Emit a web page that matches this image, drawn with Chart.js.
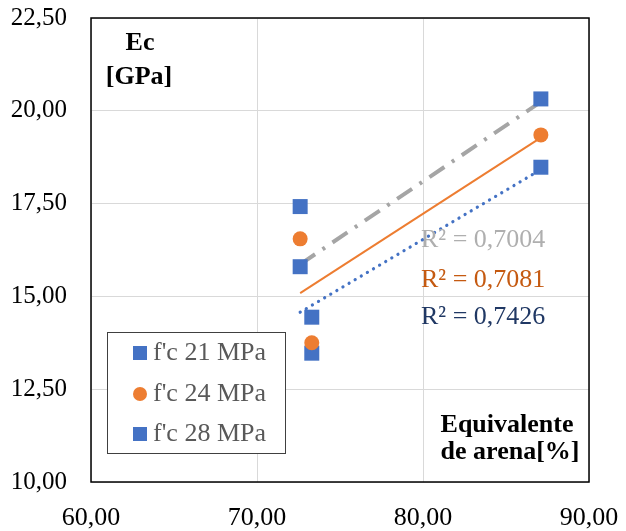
<!DOCTYPE html>
<html>
<head>
<meta charset="utf-8">
<script src="https://cdn.jsdelivr.net/npm/chart.js@4.4.1/dist/chart.umd.min.js"></script>
<style>
  html, body { margin: 0; padding: 0; background: #fff; }
  #wrap { width: 626px; height: 531px; }
</style>
</head>
<body>
<div id="wrap"><canvas id="chart" width="626" height="531"></canvas></div>
<script>
const FONT = '"Liberation Serif", "Times New Roman", serif';

// equivalente de arena [%]
const arena = [72.6, 73.3, 87.1];
// Ec [GPa]
const ec21 = [15.80, 13.47, 18.48];
const ec24 = [16.55, 13.75, 19.35];
const ec28 = [17.42, 14.44, 20.32];

const seriesNames = ["f'c 21 MPa", "f'c 24 MPa", "f'c 28 MPa"];
const r2Labels = ['R² = 0,7004', 'R² = 0,7081', 'R² = 0,7426'];

const xTicks = [60, 70, 80, 90];
const yTicks = [10, 12.5, 15, 17.5, 20, 22.5];

const BLUE = '#4472C4';
const ORANGE = '#ED7D31';
const GRAY = '#A5A5A5';

const fmt = v => Number(v).toFixed(2).replace('.', ',');

function points(ys) {
    return arena.map((x, i) => ({ x, y: ys[i] }));
}

// least squares trendline over the data range
function trend(ys) {
    const n = arena.length;
    const mx = arena.reduce((a, b) => a + b, 0) / n;
    const my = ys.reduce((a, b) => a + b, 0) / n;
    let sxy = 0, sxx = 0;
    arena.forEach((x, i) => { sxy += (x - mx) * (ys[i] - my); sxx += (x - mx) ** 2; });
    const m = sxy / sxx;
    const x0 = Math.min(...arena), x1 = Math.max(...arena);
    return [{ x: x0, y: my + m * (x0 - mx) }, { x: x1, y: my + m * (x1 - mx) }];
}

// no extra room for overflowing tick labels, layout padding decides
function noPad(s) {
    s.paddingTop = 0;
    s.paddingBottom = 0;
    s.paddingLeft = 0;
    s.paddingRight = 0;
}

// plot border, titles, R² labels and legend box
const decor = {
    id: 'decor',
    beforeDatasetsDraw(chart) {
        const { ctx, chartArea: a } = chart;
        ctx.save();
        ctx.strokeStyle = '#000';
        ctx.lineWidth = 1.5;
        ctx.strokeRect(a.left, a.top, a.right - a.left, a.bottom - a.top);
        ctx.restore();
    },
    afterDatasetsDraw(chart) {
        const { ctx } = chart;
        ctx.save();
        ctx.textBaseline = 'middle';

        ctx.font = 'bold 26px ' + FONT;
        ctx.fillStyle = '#000';
        ctx.textAlign = 'center';
        ctx.fillText('Ec', 140, 43);
        ctx.fillText('[GPa]', 139, 77);
        ctx.fillText('Equivalente', 507, 425);
        ctx.fillText('de arena[%]', 510, 452);

        ctx.font = '26px ' + FONT;
        ctx.textAlign = 'left';
        const r2Colors = ['#AFAFAF', '#C55A11', '#203864'];
        const r2Y = [240, 280, 317];
        r2Labels.forEach((t, i) => {
            ctx.fillStyle = r2Colors[i];
            ctx.fillText(t, 421, r2Y[i]);
        });

        // legend
        ctx.fillStyle = '#fff';
        ctx.fillRect(107, 332, 178, 121);
        ctx.strokeStyle = '#404040';
        ctx.lineWidth = 1;
        ctx.strokeRect(107.5, 332.5, 178, 121);
        const rowY = [353, 394, 434];
        chart.data.datasets.slice(0, 3).forEach((ds, i) => {
            ctx.fillStyle = ds.backgroundColor;
            if (ds.pointStyle === 'circle') {
                ctx.beginPath();
                ctx.arc(140, rowY[i], 7, 0, Math.PI * 2);
                ctx.fill();
            } else {
                ctx.fillRect(133, rowY[i] - 7, 14, 14);
            }
            ctx.fillStyle = '#595959';
            ctx.fillText(ds.label, 153, rowY[i]);
        });
        ctx.restore();
    },
};

new Chart(document.getElementById('chart'), {
    type: 'scatter',
    data: {
        datasets: [
            { label: seriesNames[0], data: points(ec21), backgroundColor: BLUE, borderColor: BLUE, pointStyle: 'rect', pointRadius: 10.6, borderWidth: 0, order: 3 },
            { label: seriesNames[1], data: points(ec24), backgroundColor: ORANGE, borderColor: ORANGE, pointStyle: 'circle', pointRadius: 7.5, borderWidth: 0, order: 2 },
            { label: seriesNames[2], data: points(ec28), backgroundColor: BLUE, borderColor: BLUE, pointStyle: 'rect', pointRadius: 10.6, borderWidth: 0, order: 1 },
            { type: 'line', data: trend(ec28), borderColor: GRAY, borderWidth: 4, borderDash: [18, 9, 3, 9], pointRadius: 0, order: 10 },
            { type: 'line', data: trend(ec24), borderColor: ORANGE, borderWidth: 2, pointRadius: 0, order: 10 },
            { type: 'line', data: trend(ec21), borderColor: BLUE, borderWidth: 3.2, borderDash: [0.1, 7], borderCapStyle: 'round', pointRadius: 0, order: 10 },
        ],
    },
    options: {
        responsive: false,
        animation: false,
        layout: { padding: { top: 18, right: 37, left: 0, bottom: 0 } },
        plugins: {
            legend: { display: false },
            tooltip: { enabled: false },
        },
        scales: {
            x: {
                type: 'linear',
                min: 60,
                max: 90,
                afterBuildTicks: s => { s.ticks = xTicks.map(value => ({ value })); },
                afterFit: s => { s.height = 49; noPad(s); },
                grid: { color: '#D9D9D9', drawTicks: false },
                border: { display: false },
                ticks: { callback: fmt, color: '#000', padding: 21, maxRotation: 0, font: { family: FONT, size: 26 } },
            },
            y: {
                min: 10,
                max: 22.5,
                afterBuildTicks: s => { s.ticks = yTicks.map(value => ({ value })); },
                afterFit: s => { s.width = 91; noPad(s); },
                grid: { color: '#D9D9D9', drawTicks: false },
                border: { display: false },
                ticks: { callback: fmt, color: '#000', padding: 24, font: { family: FONT, size: 25 } },
            },
        },
    },
    plugins: [decor],
});
</script>
</body>
</html>
